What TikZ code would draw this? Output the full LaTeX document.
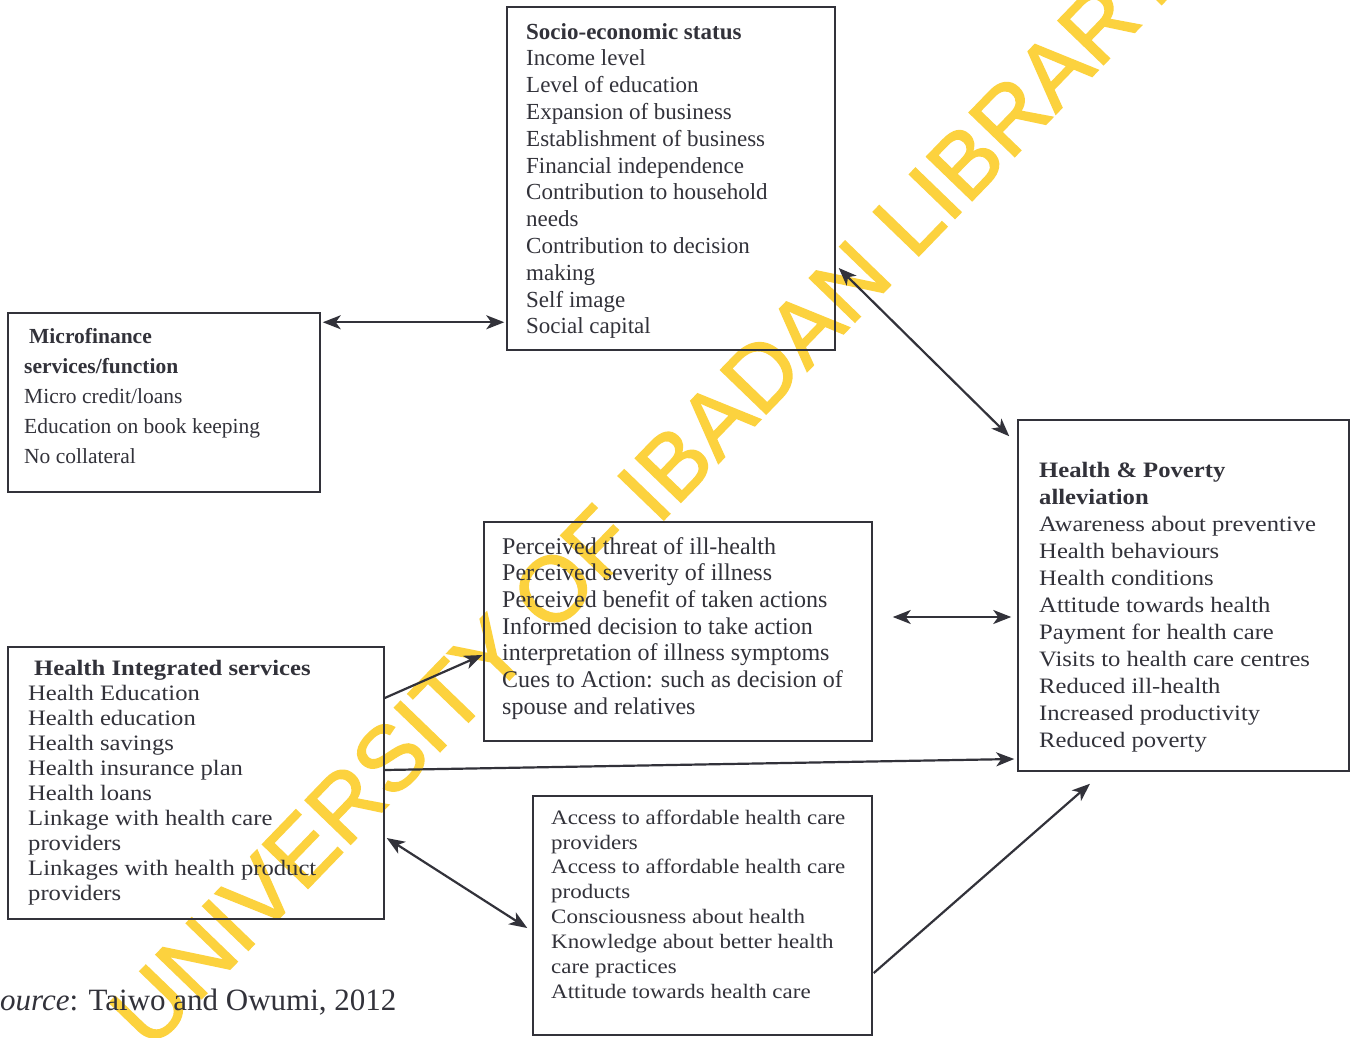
\documentclass[tikz,border=0pt]{standalone}
\usepackage{fontspec}
\setmainfont{Liberation Serif}
\newfontfamily\widefont[FakeStretch=1.12]{Liberation Serif}
\newfontfamily\wmfont[FakeBold=1.6]{Liberation Sans}
\usetikzlibrary{arrows.meta}
\definecolor{ink}{RGB}{50,50,58}
\definecolor{wm}{RGB}{252,210,62}
\begin{document}
\begin{tikzpicture}[x=1pt,y=-1pt,
  box/.style={draw=ink, line width=1.5pt, rectangle, inner sep=0pt},
  txt/.style={anchor=north west, inner sep=0pt, align=left, text=ink},
  arr/.style={draw=ink, line width=2.2pt, -{Stealth[length=18pt,width=14pt,inset=5pt]}},
  darr/.style={draw=ink, line width=2.2pt, {Stealth[length=18pt,width=14pt,inset=5pt]}-{Stealth[length=18pt,width=14pt,inset=5pt]}},
]
\fill[white] (0,0) rectangle (1354,1037);
\useasboundingbox (0,0) rectangle (1354,1037);

% watermark (behind everything else)
\node[anchor=base west, rotate=46, inner sep=0pt, text=wm, font=\wmfont\fontsize{92}{92}\selectfont] (wmark) at (150,1052) {UNIVERSITY OF IBADAN LIBRARY};

% boxes
\node[box, minimum width=328pt, minimum height=343pt] (socio) at (671,178.5) {};
\node[box, minimum width=312pt, minimum height=179pt] (micro) at (164,402.5) {};
\node[box, minimum width=331pt, minimum height=351pt] (hp) at (1183.5,595.5) {};
\node[box, minimum width=376pt, minimum height=272pt] (his) at (196,783) {};
\node[box, minimum width=388pt, minimum height=219pt] (perc) at (678,631.5) {};
\node[box, minimum width=339pt, minimum height=239pt] (access) at (702.5,915.5) {};

% texts
\node[txt, font=\fontsize{23}{26.8}\selectfont] (sociot) at (526,23)
  {\textbf{Socio-economic status}\\Income level\\Level of education\\Expansion of business\\Establishment of business\\Financial independence\\Contribution to household\\needs\\Contribution to decision\\making\\Self image\\Social capital};
\node[txt, font=\fontsize{21.5}{29.8}\selectfont] (microt) at (24,328.5)
  {\hspace{5pt}\textbf{Microfinance}\\\textbf{services/function}\\Micro credit/loans\\Education on book keeping\\No collateral};
\node[txt, font=\widefont\fontsize{22}{27}\selectfont] (hpt) at (1039,462.5)
  {\textbf{Health \& Poverty}\\\textbf{alleviation}\\Awareness about preventive\\Health behaviours\\Health conditions\\Attitude towards health\\Payment for health care\\Visits to health care centres\\Reduced ill-health\\Increased productivity\\Reduced poverty};
\node[txt, font=\widefont\fontsize{22}{25}\selectfont] (hist) at (28,660)
  {\hspace{6pt}\textbf{Health Integrated services}\\Health Education\\Health education\\Health savings\\Health insurance plan\\Health loans\\Linkage with health care\\providers\\Linkages with health product\\providers};
\node[txt, font=\fontsize{24}{26.7}\selectfont] (perct) at (502,537)
  {Perceived threat of ill-health\\Perceived severity of illness\\Perceived benefit of taken actions\\Informed decision to take action\\interpretation of illness symptoms\\Cues to Action: such as decision of\\spouse and relatives};
\node[txt, font=\widefont\fontsize{20.5}{24.9}\selectfont] (accesst) at (551,809.5)
  {Access to affordable health care\\providers\\Access to affordable health care\\products\\Consciousness about health\\Knowledge about better health\\care practices\\Attitude towards health care};

% source
\node[anchor=base west, inner sep=0pt, text=ink, font=\fontsize{31}{31}\selectfont] (src) at (-15.5,1010)
  {\textit{Source}: Taiwo and Owumi, 2012};

% connectors
\coordinate (a1) at ([xshift=2pt,yshift=-10pt]micro.north east);
\draw[darr] (a1) -- ([xshift=-2pt]socio.west |- a1);
\draw[darr] ([xshift=3pt,yshift=-89.5pt]socio.east) -- ([xshift=-8pt,yshift=-17pt]hp.north west);
\draw[arr] ([yshift=85pt]his.east) -- ([xshift=-1pt,yshift=-23.5pt]perc.west);
\coordinate (a4) at ([xshift=20pt,yshift=14.5pt]perc.east);
\draw[darr] (a4) -- ([xshift=-6pt]hp.west |- a4);
\draw[arr] ([yshift=13pt]his.east) -- ([xshift=-3pt,yshift=-163.5pt]hp.west);
\draw[darr] ([xshift=2pt,yshift=-55pt]his.east) -- ([xshift=-5pt,yshift=-12.5pt]access.west);
\draw[arr] ([xshift=1pt,yshift=-57.5pt]access.east) -- ([xshift=-93.5pt,yshift=-12pt]hp.south);
\end{tikzpicture}
\end{document}
